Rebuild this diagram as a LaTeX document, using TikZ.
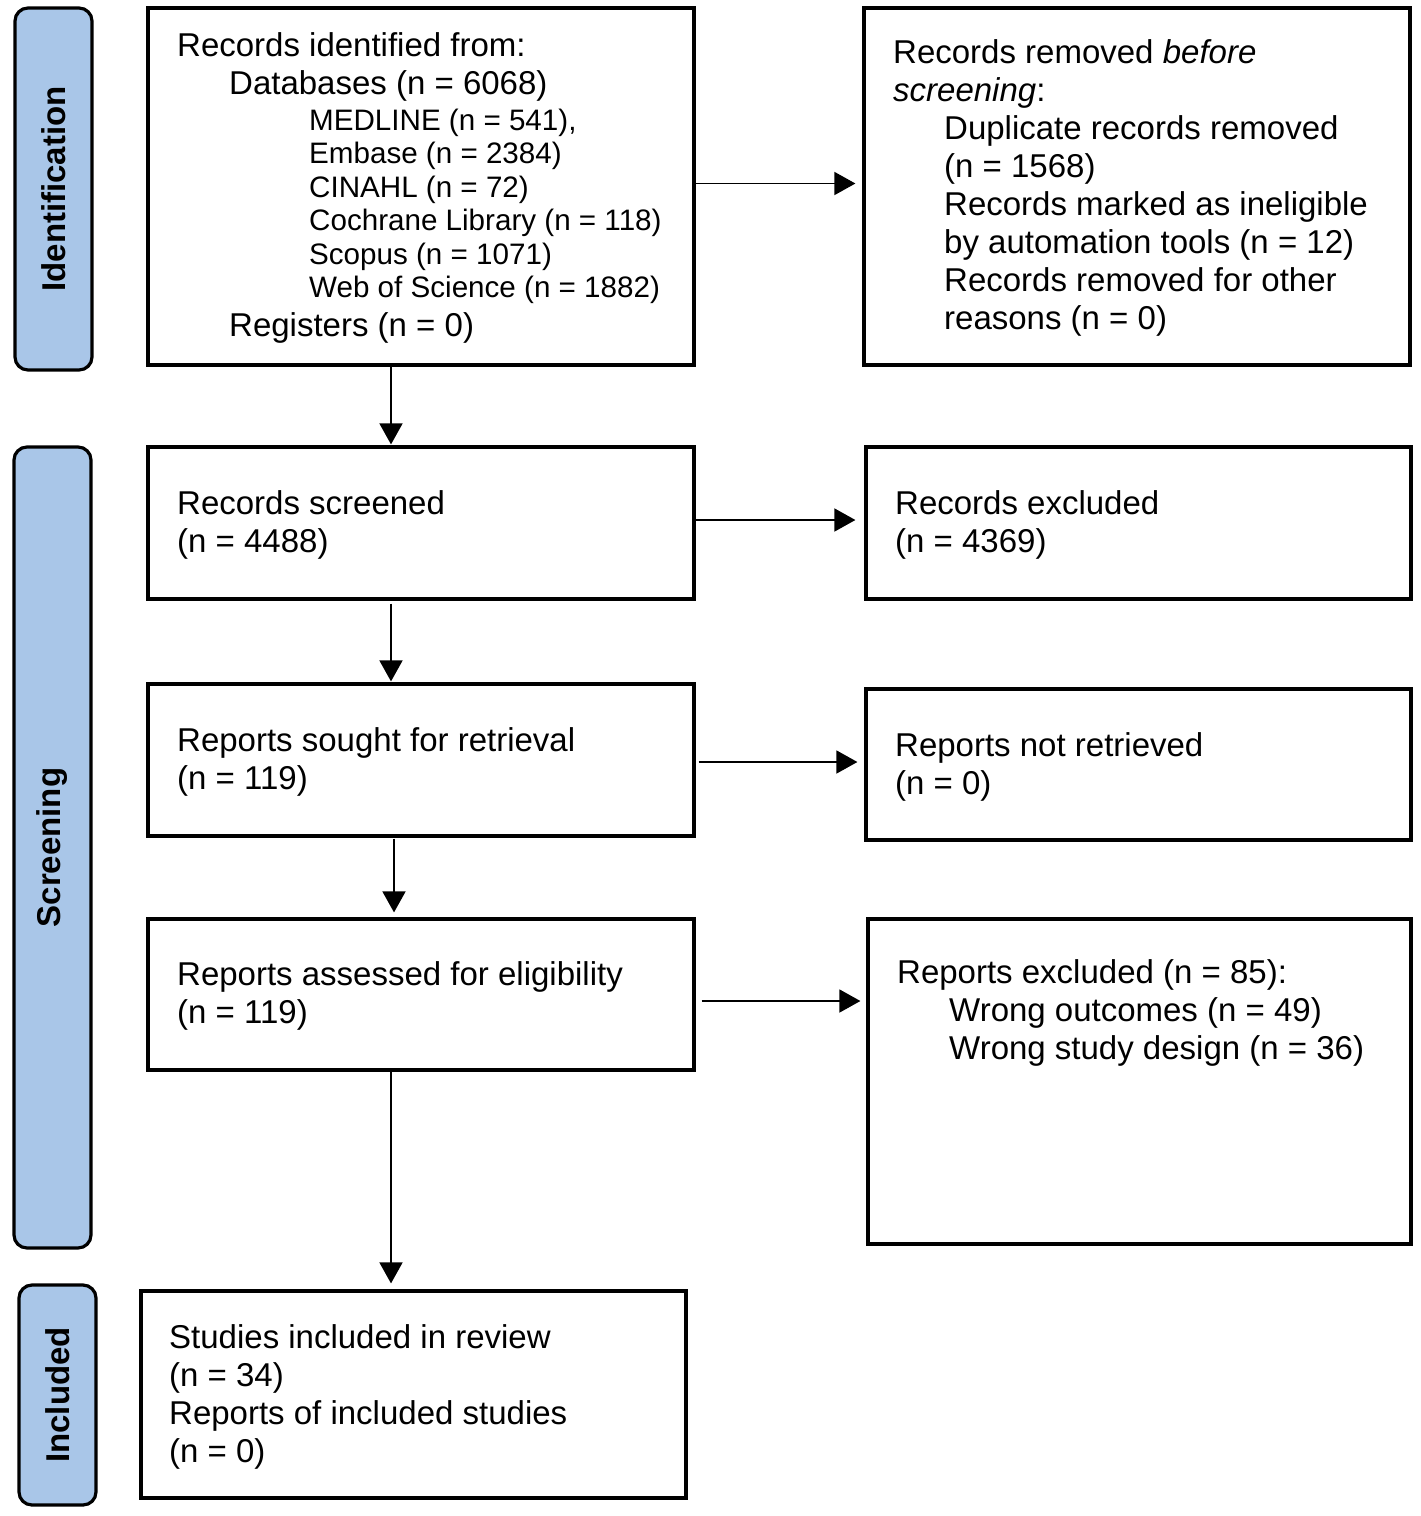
\documentclass[tikz,border=0pt]{standalone}
\usepackage{fontspec}
\setmainfont{Liberation Sans}
\usetikzlibrary{arrows.meta,calc}
\definecolor{phase}{RGB}{169,198,232}
\newcommand{\mainsz}{\fontsize{33}{38}\selectfont}
\newcommand{\smallsz}{\fontsize{29.6}{33}\selectfont}
\tikzset{
  box/.style={draw=black, line width=3.2pt, rectangle, inner sep=0pt},
  phasebox/.style={draw=black, fill=phase, line width=3.2pt, rounded corners=13pt, inner sep=0pt},
  phasetext/.style={font=\mainsz\bfseries, rotate=90, inner sep=0pt},
  txt/.style={anchor=base west, inner sep=0pt, font=\mainsz},
  stxt/.style={anchor=base west, inner sep=0pt, font=\smallsz},
  arr/.style={line width=1.6pt, -{Triangle[length=21pt,width=23pt]}},
}
\begin{document}
\begin{tikzpicture}[x=1pt,y=-1pt]
\useasboundingbox (0,0) rectangle (1421,1516);
% phase labels
\node[phasebox, minimum width=77pt, minimum height=362pt] (pid) at (53.5,189) {};
\node[phasetext] (tid) at (pid.center) {Identification};
\node[phasebox, minimum width=77pt, minimum height=801pt] (psc) at (52.5,847.5) {};
\node[phasetext] (tsc) at (psc.center) {Screening};
\node[phasebox, minimum width=77pt, minimum height=220pt] (pin) at (57.5,1395) {};
\node[phasetext] (tin) at (pin.center) {Included};
% boxes
\node[box, minimum width=546pt, minimum height=357pt] (b1) at (421,186.5) {};
\node[box, minimum width=546pt, minimum height=357pt] (b2) at (1137,186.5) {};
\node[box, minimum width=546pt, minimum height=152pt] (b3) at (421,523) {};
\node[box, minimum width=545pt, minimum height=152pt] (b4) at (1138.5,523) {};
\node[box, minimum width=546pt, minimum height=152pt] (b5) at (421,760) {};
\node[box, minimum width=545pt, minimum height=151pt] (b6) at (1138.5,764.5) {};
\node[box, minimum width=546pt, minimum height=151pt] (b7) at (421,994.5) {};
\node[box, minimum width=543pt, minimum height=325pt] (b8) at (1139.5,1081.5) {};
\node[box, minimum width=545pt, minimum height=207pt] (b9) at (413.5,1394.5) {};
% texts box 1
\node[txt] (t1a) at (177,56) {Records identified from:};
\node[txt] (t1b) at (229,94) {Databases (n = 6068)};
\node[stxt] (t1c) at (309,130) {MEDLINE (n = 541),};
\node[stxt] (t1d) at (309,163.5) {Embase (n = 2384)};
\node[stxt] (t1e) at (309,197) {CINAHL (n = 72)};
\node[stxt] (t1f) at (309,230.5) {Cochrane Library (n = 118)};
\node[stxt] (t1g) at (309,264) {Scopus (n = 1071)};
\node[stxt] (t1h) at (309,297.5) {Web of Science (n = 1882)};
\node[txt] (t1i) at (229,336) {Registers (n = 0)};
% texts box 2
\node[txt] (t2a) at (893,63) {Records removed \textit{before}};
\node[txt] (t2b) at (893,101) {\textit{screening}:};
\node[txt] (t2c) at (944,139) {Duplicate records removed};
\node[txt] (t2d) at (944,177) {(n = 1568)};
\node[txt] (t2e) at (944,215) {Records marked as ineligible};
\node[txt] (t2f) at (944,253) {by automation tools (n = 12)};
\node[txt] (t2g) at (944,291) {Records removed for other};
\node[txt] (t2h) at (944,329) {reasons (n = 0)};
% other texts
\node[txt] (t3a) at (177,514) {Records screened};
\node[txt] (t3b) at (177,552) {(n = 4488)};
\node[txt] (t4a) at (895,514) {Records excluded};
\node[txt] (t4b) at (895,552) {(n = 4369)};
\node[txt] (t5a) at (177,751) {Reports sought for retrieval};
\node[txt] (t5b) at (177,789) {(n = 119)};
\node[txt] (t6a) at (895,756) {Reports not retrieved};
\node[txt] (t6b) at (895,794) {(n = 0)};
\node[txt] (t7a) at (177,985) {Reports assessed for eligibility};
\node[txt] (t7b) at (177,1023) {(n = 119)};
\node[txt] (t8a) at (897,983) {Reports excluded (n = 85):};
\node[txt] (t8b) at (949,1021) {Wrong outcomes (n = 49)};
\node[txt] (t8c) at (949,1059) {Wrong study design (n = 36)};
\node[txt] (t9a) at (169,1348) {Studies included in review};
\node[txt] (t9b) at (169,1386) {(n = 34)};
\node[txt] (t9c) at (169,1424) {Reports of included studies};
\node[txt] (t9d) at (169,1462) {(n = 0)};
% arrows
\draw[arr, shorten >=7pt] ([yshift=3pt]b1.east) -- ([yshift=3pt]b1.east -| b2.west);
\draw[arr, shorten >=9pt] ([yshift=3pt]b3.east) -- ([yshift=3pt]b3.east -| b4.west);
\draw[arr, shorten <=3pt, shorten >=7pt] ([yshift=-2pt]b5.east) -- ([yshift=-2pt]b5.east -| b6.west);
\draw[arr, shorten <=6pt, shorten >=6pt] ([yshift=-6.5pt]b7.east) -- ([yshift=-6.5pt]b7.east -| b8.west);
\draw[arr, shorten >=1pt] ([xshift=-30pt]b1.south) -- ([xshift=-30pt]b1.south |- b3.north);
\draw[arr, shorten <=3pt, shorten >=1pt] ([xshift=-30pt]b3.south) -- ([xshift=-30pt]b3.south |- b5.north);
\draw[arr, shorten <=1pt, shorten >=5pt] ([xshift=-27pt]b5.south) -- ([xshift=-27pt]b5.south |- b7.north);
\draw[arr, shorten >=6pt] ([xshift=-30pt]b7.south) -- ([xshift=-30pt]b7.south |- b9.north);
\end{tikzpicture}
\end{document}
